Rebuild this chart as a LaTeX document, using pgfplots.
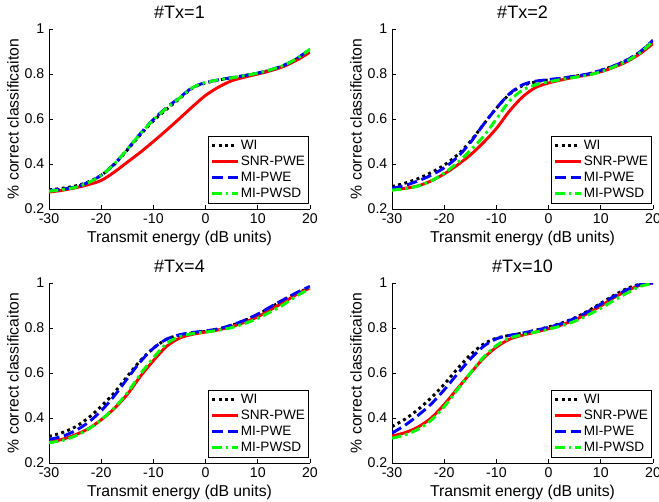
\documentclass[border=0pt]{standalone}
\usepackage{fontspec}
\setmainfont{Liberation Sans}
\usepackage{pgfplots}
\usepackage{pgfplotstable}
\pgfplotsset{compat=1.18}

% columns: x, WI, SNR-PWE, MI-PWE, MI-PWSD
\pgfplotstableread{
x     wi     snr    mipwe  mipwsd
-30   0.285  0.275  0.282  0.279
-27.5 0.292  0.283  0.288  0.286
-25   0.302  0.294  0.298  0.296
-22.5 0.320  0.308  0.318  0.317
-20   0.350  0.327  0.350  0.349
-17.5 0.398  0.364  0.400  0.400
-15   0.462  0.408  0.465  0.465
-12.5 0.530  0.452  0.535  0.535
-10   0.592  0.500  0.598  0.596
-7.5  0.643  0.550  0.650  0.648
-5    0.690  0.602  0.695  0.693
-2.5  0.738  0.655  0.740  0.740
0     0.760  0.705  0.762  0.762
2.5   0.773  0.742  0.774  0.774
5     0.783  0.770  0.784  0.783
7.5   0.793  0.786  0.793  0.793
10    0.804  0.800  0.804  0.804
12.5  0.818  0.815  0.819  0.819
15    0.838  0.834  0.839  0.839
17.5  0.868  0.862  0.869  0.869
20    0.910  0.897  0.910  0.910
}\txone

\pgfplotstableread{
x     wi     snr    mipwe  mipwsd
-30   0.300  0.285  0.292  0.284
-27.5 0.315  0.292  0.305  0.290
-25   0.335  0.303  0.325  0.302
-22.5 0.362  0.325  0.350  0.325
-20   0.395  0.356  0.383  0.360
-17.5 0.440  0.395  0.430  0.405
-15   0.500  0.440  0.495  0.460
-12.5 0.575  0.495  0.575  0.522
-10   0.648  0.558  0.648  0.600
-7.5  0.710  0.635  0.712  0.680
-5    0.748  0.698  0.752  0.728
-2.5  0.765  0.740  0.768  0.752
0     0.774  0.760  0.775  0.765
2.5   0.781  0.774  0.782  0.776
5     0.790  0.786  0.790  0.785
7.5   0.800  0.796  0.800  0.795
10    0.816  0.810  0.816  0.810
12.5  0.836  0.830  0.836  0.832
15    0.862  0.855  0.862  0.858
17.5  0.897  0.890  0.898  0.894
20    0.948  0.935  0.950  0.945
}\txtwo

\pgfplotstableread{
x     wi     snr    mipwe  mipwsd
-30   0.318  0.292  0.305  0.290
-27.5 0.335  0.305  0.318  0.300
-25   0.360  0.325  0.343  0.320
-22.5 0.400  0.352  0.380  0.350
-20   0.452  0.392  0.432  0.392
-17.5 0.512  0.442  0.498  0.445
-15   0.585  0.505  0.575  0.512
-12.5 0.655  0.585  0.650  0.595
-10   0.710  0.655  0.710  0.668
-7.5  0.750  0.718  0.750  0.730
-5    0.768  0.755  0.770  0.762
-2.5  0.778  0.772  0.780  0.775
0     0.785  0.782  0.787  0.782
2.5   0.795  0.792  0.797  0.790
5     0.812  0.806  0.813  0.802
7.5   0.833  0.826  0.835  0.820
10    0.860  0.850  0.862  0.843
12.5  0.892  0.882  0.895  0.872
15    0.925  0.915  0.927  0.905
17.5  0.955  0.950  0.958  0.943
20    0.980  0.978  0.985  0.975
}\txfour

\pgfplotstableread{
x     wi     snr    mipwe  mipwsd
-30   0.362  0.320  0.333  0.310
-27.5 0.395  0.335  0.368  0.325
-25   0.438  0.360  0.412  0.350
-22.5 0.490  0.400  0.462  0.390
-20   0.550  0.460  0.525  0.450
-17.5 0.618  0.530  0.595  0.525
-15   0.680  0.598  0.662  0.600
-12.5 0.728  0.665  0.718  0.670
-10   0.755  0.715  0.752  0.722
-7.5  0.767  0.750  0.767  0.755
-5    0.777  0.768  0.777  0.770
-2.5  0.790  0.782  0.790  0.782
0     0.805  0.797  0.803  0.795
2.5   0.822  0.814  0.820  0.810
5     0.845  0.836  0.843  0.830
7.5   0.875  0.865  0.872  0.857
10    0.910  0.898  0.906  0.888
12.5  0.945  0.935  0.940  0.922
15    0.975  0.965  0.970  0.955
17.5  0.995  0.990  0.993  0.985
20    1.000  1.000  1.000  0.997
}\txten

\pgfplotsset{
  panel/.style={
    width=195.75pt, height=135pt, scale only axis,
    anchor=south west,
    xmin=-30, xmax=20, ymin=0.2, ymax=1,
    xtick={-30,-20,...,20}, ytick={0.2,0.4,...,1},
    axis x line*=bottom, axis y line*=left,
    axis line style={-, line width=0.7pt},
    tick align=inside, major tick length=3pt,
    tick style={line width=0.7pt, black},
    /pgf/number format/assume math mode=true,
    tick label style={font=\fontsize{10.6}{12}\selectfont},
    label style={font=\fontsize{11.8}{14}\selectfont},
    title style={font=\fontsize{13.5}{15}\selectfont, yshift=-1.5pt},
    xlabel style={yshift=1pt},
    ylabel style={yshift=-2.5pt},
    xlabel={Transmit energy (dB units)},
    ylabel={\% correct classificaiton},
    legend style={at={(rel axis cs:0.997,0.03)}, anchor=south east,
      draw=black, line width=0.7pt, inner sep=1.5pt,
      font=\fontsize{10.2}{11}\selectfont,
      nodes={inner sep=1.3pt, anchor=west}, row sep=0.8pt},
    legend cell align=left,
    legend image code/.code={\draw[##1] (0pt,0pt) -- (19pt,0pt);},
  },
  wi/.style={black, line width=2.2pt, dash pattern=on 2.2pt off 2.6pt, smooth},
  snr/.style={red, line width=2.2pt, solid, smooth},
  mipwe/.style={blue, line width=2.2pt, dash pattern=on 8pt off 3.5pt, smooth},
  mipwsd/.style={green, line width=2.2pt, dash pattern=on 7pt off 3pt on 2pt off 3pt, smooth},
}

\newcommand{\curves}[1]{%
  \addplot[wi] table[x=x, y=wi] {#1};
  \addplot[snr] table[x=x, y=snr] {#1};
  \addplot[mipwe] table[x=x, y=mipwe] {#1};
  \addplot[mipwsd] table[x=x, y=mipwsd] {#1};
  \legend{WI, SNR-PWE, MI-PWE, MI-PWSD}
}

\begin{document}
\begin{tikzpicture}
\path[use as bounding box] (0,0) rectangle (494.25pt,375.75pt);

\begin{axis}[panel, at={(36.75pt,219pt)}, title={\#Tx=1}]
\curves{\txone}
\end{axis}

\begin{axis}[panel, at={(294pt,219pt)}, title={\#Tx=2}]
\curves{\txtwo}
\end{axis}

\begin{axis}[panel, at={(36.75pt,28.5pt)}, title={\#Tx=4}]
\curves{\txfour}
\end{axis}

\begin{axis}[panel, at={(294pt,28.5pt)}, title={\#Tx=10}]
\curves{\txten}
\end{axis}
\end{tikzpicture}
\end{document}
